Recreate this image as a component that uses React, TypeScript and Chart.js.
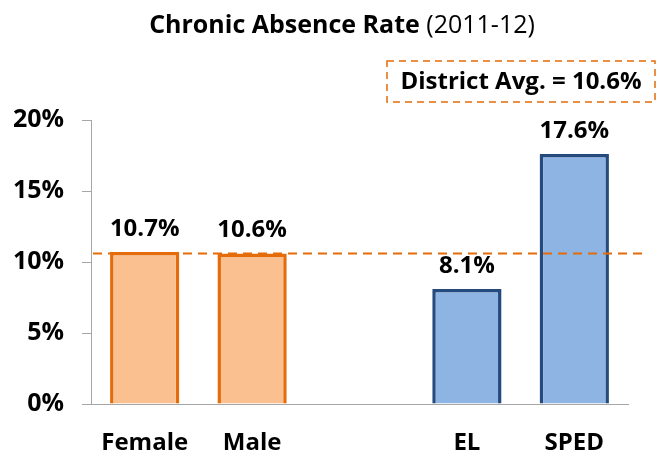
import React, { useEffect, useRef } from "react";
import { Chart, registerables } from "chart.js";

Chart.register(...registerables);

const categories = ["Female", "Male", "", "EL", "SPED"];
const values: (number | null)[] = [10.7, 10.6, null, 8.1, 17.6];
const valueLabels = ["10.7%", "10.6%", "", "8.1%", "17.6%"];
const districtAvg = 10.6;
const districtLabel = "District Avg. = 10.6%";
const titleBold = "Chronic Absence Rate";
const titleNormal = " (2011-12)";
const yMin = 0;
const yMax = 20;
const yStep = 5;

const FONT = "'Open Sans', 'Noto Sans', sans-serif";
const ORANGE = "#E46C0A";
const ORANGE_FILL = "#FAC090";
const BLUE = "#244A7E";
const BLUE_FILL = "#8EB4E3";

const fills = [ORANGE_FILL, ORANGE_FILL, ORANGE_FILL, BLUE_FILL, BLUE_FILL];
const borders = [ORANGE, ORANGE, ORANGE, BLUE, BLUE];

const overlay = {
  id: "overlay",
  afterDatasetsDraw(chart: any) {
    const ctx = chart.ctx;
    const area = chart.chartArea;
    const y = chart.scales.y;
    const meta = chart.getDatasetMeta(0);
    ctx.save();
    // data labels
    ctx.fillStyle = "#000";
    ctx.font = `bold 24px ${FONT}`;
    ctx.textAlign = "center";
    ctx.textBaseline = "alphabetic";
    meta.data.forEach((el: any, i: number) => {
      if (values[i] == null) return;
      ctx.fillText(valueLabels[i], el.x, el.y - 16);
    });
    // district avg line
    const ly = y.getPixelForValue(districtAvg);
    ctx.strokeStyle = ORANGE;
    ctx.lineWidth = 2;
    ctx.setLineDash([9, 6]);
    ctx.beginPath();
    ctx.moveTo(area.left + 2, ly);
    ctx.lineTo(area.right + 16, ly);
    ctx.stroke();
    // box
    const bx = 387, by = 61, bw = chart.width - 2 - 387, bh = 41;
    ctx.lineWidth = 1.5;
    ctx.setLineDash([7, 5]);
    ctx.strokeRect(bx, by, bw, bh);
    ctx.setLineDash([]);
    ctx.font = `bold 24px ${FONT}`;
    ctx.textBaseline = "middle";
    ctx.fillText(districtLabel, bx + bw / 2, by + bh / 2 + 1);
    // title
    ctx.textBaseline = "alphabetic";
    ctx.font = `bold 25px ${FONT}`;
    const w1 = ctx.measureText(titleBold).width;
    ctx.font = `25px ${FONT}`;
    const w2 = ctx.measureText(titleNormal).width;
    const start = 342 - (w1 + w2) / 2;
    ctx.textAlign = "left";
    ctx.font = `bold 25px ${FONT}`;
    ctx.fillText(titleBold, start, 33);
    ctx.font = `25px ${FONT}`;
    ctx.fillText(titleNormal, start + w1, 33);
    ctx.restore();
  },
};

export default function App() {
  const ref = useRef<HTMLCanvasElement>(null);
  useEffect(() => {
    if (!ref.current) return;
    const chart = new Chart(ref.current, {
      type: "bar",
      data: {
        labels: categories,
        datasets: [
          {
            data: values,
            backgroundColor: fills,
            borderColor: borders,
            borderWidth: 3.5,
            categoryPercentage: 1,
            barPercentage: 0.645,
          },
        ],
      },
      options: {
        animation: false,
        responsive: false,
        layout: { padding: { top: 120, right: 29, left: 0, bottom: 0 } },
        plugins: { legend: { display: false }, tooltip: { enabled: false }, title: { display: false } },
        scales: {
          x: {
            grid: { display: false },
            border: { display: true, color: "#A6A6A6", width: 1 },
            ticks: { color: "#000", font: { family: FONT, size: 24, weight: "bold" }, padding: 17 },
            afterFit(scale: any) {
              scale.height = 52;
            },
          },
          y: {
            min: yMin,
            max: yMax,
            grid: { display: true, drawOnChartArea: false, drawTicks: true, tickLength: 9, color: "#A6A6A6" },
            border: { display: true, color: "#A6A6A6", width: 1 },
            ticks: {
              stepSize: yStep,
              color: "#000",
              padding: 18,
              font: { family: FONT, size: 25, weight: "bold" },
              callback: (v: any) => `${v}%`,
            },
            afterFit(scale: any) {
              scale.width = 91;
            },
          },
        },
      },
      plugins: [overlay],
    });
    return () => chart.destroy();
  }, []);
  return (
    <div style={{ position: "fixed", left: 0, top: 0, width: 657, height: 456, background: "#fff" }}>
      <canvas ref={ref} width={657} height={456} />
    </div>
  );
}
